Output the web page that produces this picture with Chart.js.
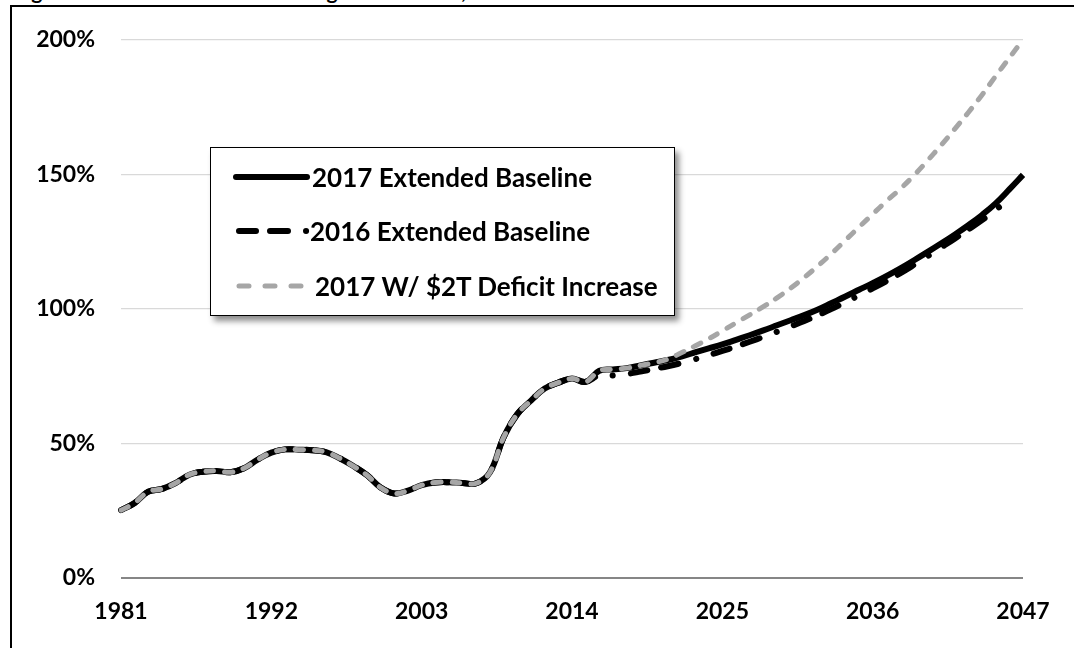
<!DOCTYPE html>
<html>
<head>
<meta charset="utf-8">
<script src="https://cdn.jsdelivr.net/npm/chart.js@4/dist/chart.umd.min.js"></script>
<style>
    html, body { margin: 0; padding: 0; background: #fff; overflow: hidden; }
    body { width: 1074px; height: 648px; position: relative; font-family: Lato, 'Open Sans', sans-serif; }
    #wrap { position: absolute; left: 0; top: 0; width: 1074px; height: 648px; }
    #frame {
        position: absolute; left: 10px; top: 5px; width: 1100px; height: 700px;
        border: 2px solid #000; box-sizing: border-box; pointer-events: none;
    }
    #title {
        position: absolute; left: 14px; top: -20px; font-size: 21px; line-height: 21px;
        font-weight: bold; white-space: nowrap;
    }
    #legend {
        position: absolute; left: 210px; top: 147px; width: 465px; height: 169px;
        box-sizing: border-box; border: 1.5px solid #000; background: #fff;
        box-shadow: 4px 5px 6px rgba(0, 0, 0, 0.45);
    }
    .row { position: absolute; left: 0; height: 30px; width: 100%; }
    .row svg { position: absolute; left: 20px; top: 0; }
    .row span {
        position: absolute; top: 0; line-height: 30px; font-size: 26px; font-weight: bold;
        color: #000; white-space: nowrap;
    }
</style>
</head>
<body>
<div id="title">Figure 1: Federal Debt Under Budget Resolution, 1981-2047</div>
<div id="wrap"><canvas id="debtChart" width="1074" height="648"></canvas></div>
<div id="legend">
    <div class="row" style="top: 14px;">
        <svg width="80" height="30"><line x1="5" y1="15" x2="76" y2="15" stroke="#000" stroke-width="6" stroke-linecap="round"/></svg>
        <span style="left: 101px;">2017 Extended Baseline</span>
    </div>
    <div class="row" style="top: 68px;">
        <svg width="80" height="30"><line x1="8" y1="15" x2="76" y2="15" stroke="#000" stroke-width="6" stroke-linecap="round" stroke-dasharray="17 14 18 18 0.1 40"/></svg>
        <span style="left: 99px;">2016 Extended Baseline</span>
    </div>
    <div class="row" style="top: 123px;">
        <svg width="80" height="30"><line x1="8" y1="15" x2="70" y2="15" stroke="#a6a6a6" stroke-width="5" stroke-linecap="round" stroke-dasharray="10 16"/></svg>
        <span style="left: 104px;">2017 W/ $2T Deficit Increase</span>
    </div>
</div>
<div id="frame"></div>
<script>
// Years on the x axis
const years = [
    1981, 1982, 1983, 1984, 1985, 1986, 1987, 1988, 1989, 1990, 1991, 1992,
    1993, 1994, 1995, 1996, 1997, 1998, 1999, 2000, 2001, 2002, 2003, 2004,
    2005, 2006, 2007, 2008, 2009, 2010, 2011, 2012, 2013, 2014, 2015, 2016,
    2017, 2018, 2019, 2020, 2021, 2022, 2023, 2024, 2025, 2026, 2027, 2028,
    2029, 2030, 2031, 2032, 2033, 2034, 2035, 2036, 2037, 2038, 2039, 2040,
    2041, 2042, 2043, 2044, 2045, 2046, 2047,
];
const labelYears = [1981, 1992, 2003, 2014, 2025, 2036, 2047];
const yTicks = [0, 50, 100, 150, 200];

// Debt as % of GDP, shared history 1981-2015
const history = [
    25.2, 27.9, 32.1, 33.1, 35.3, 38.4, 39.5, 39.8, 39.3, 40.8, 44.0, 46.6,
    47.8, 47.7, 47.5, 46.8, 44.5, 41.6, 38.2, 33.6, 31.4, 32.5, 34.5, 35.5,
    35.6, 35.3, 35.2, 39.3, 52.3, 60.9, 65.9, 70.4, 72.6, 74.1, 72.9,
];

// Projections 2016-2047
const baseline2017 = [
    77.0, 77.5, 78.0, 79.0, 80.0, 81.0, 82.3, 83.8, 85.3, 86.8, 88.5, 90.2,
    92.0, 93.9, 95.8, 97.7, 99.8, 102.2, 104.6, 107.1, 109.6, 112.2, 115.0, 118.0,
    121.1, 124.3, 127.6, 131.1, 134.9, 139.2, 144.4, 149.8,
];
const baseline2016 = [
    75.4, 75.3, 75.8, 76.7, 77.7, 78.7, 79.9, 81.3, 82.8, 84.4, 86.0, 87.8,
    89.6, 91.5, 93.5, 95.5, 97.7, 100.0, 102.5, 105.0, 107.6, 110.3, 113.2, 116.3,
    119.5, 122.8, 126.1, 129.5, 133.0, 136.8, 140.8, null,
];
const deficit2T = [
    77.0, 77.5, 78.0, 79.0, 80.0, 81.3, 83.7, 86.2, 88.9, 91.8, 94.8, 97.8,
    100.8, 104.1, 107.7, 111.7, 116.0, 120.6, 125.5, 130.4, 135.2, 140.0, 144.5, 149.5,
    155.0, 160.8, 166.8, 173.0, 179.5, 186.5, 193.3, 200.0,
];

const tickFont = { family: 'Lato', size: 23, weight: 'bold' };

function createDebtChart() {
    const ctx = document.getElementById('debtChart').getContext('2d');
    new Chart(ctx, {
        type: 'line',
        data: {
            labels: years,
            datasets: [
                {
                    label: '2017 W/ $2T Deficit Increase',
                    data: history.concat(deficit2T),
                    borderColor: '#a6a6a6',
                    borderWidth: 5,
                    borderDash: [8, 11],
                    borderCapStyle: 'round',
                    order: 1,
                },
                {
                    label: '2016 Extended Baseline',
                    data: history.concat(baseline2016),
                    borderColor: '#000',
                    borderWidth: 6,
                    borderDash: [17, 14, 18, 18, 0.1, 18],
                    borderCapStyle: 'round',
                    order: 2,
                },
                {
                    label: '2017 Extended Baseline',
                    data: history.concat(baseline2017),
                    borderColor: '#000',
                    borderWidth: 6,
                    order: 3,
                },
            ],
        },
        options: {
            responsive: false,
            animation: false,
            events: [],
            layout: { padding: { left: 0, top: 37, right: 51, bottom: 0 } },
            elements: {
                point: { radius: 0 },
                line: { tension: 0.4, borderJoinStyle: 'round', fill: false },
            },
            plugins: { legend: { display: false }, tooltip: { enabled: false } },
            scales: {
                x: {
                    type: 'category',
                    offset: false,
                    grid: { display: false, drawTicks: false },
                    border: { display: false },
                    ticks: {
                        autoSkip: false,
                        maxRotation: 0,
                        padding: 20,
                        color: '#000',
                        font: tickFont,
                        callback: function (value, index) {
                            return labelYears.includes(years[index]) ? String(years[index]) : '';
                        },
                    },
                    afterFit: function (scale) { scale.height = 70; },
                },
                y: {
                    min: 0,
                    max: 200,
                    afterBuildTicks: function (scale) {
                        scale.ticks = yTicks.map(v => ({ value: v }));
                    },
                    grid: {
                        drawTicks: false,
                        color: c => (c.tick.value === 0 ? '#868686' : '#d9d9d9'),
                        lineWidth: c => (c.tick.value === 0 ? 2 : 1.3),
                    },
                    border: { display: false },
                    ticks: {
                        padding: 26,
                        color: '#000',
                        font: tickFont,
                        callback: v => v + '%',
                    },
                    afterFit: function (scale) { scale.width = 121; },
                },
            },
        },
    });
}

document.addEventListener('DOMContentLoaded', createDebtChart);
</script>
</body>
</html>
